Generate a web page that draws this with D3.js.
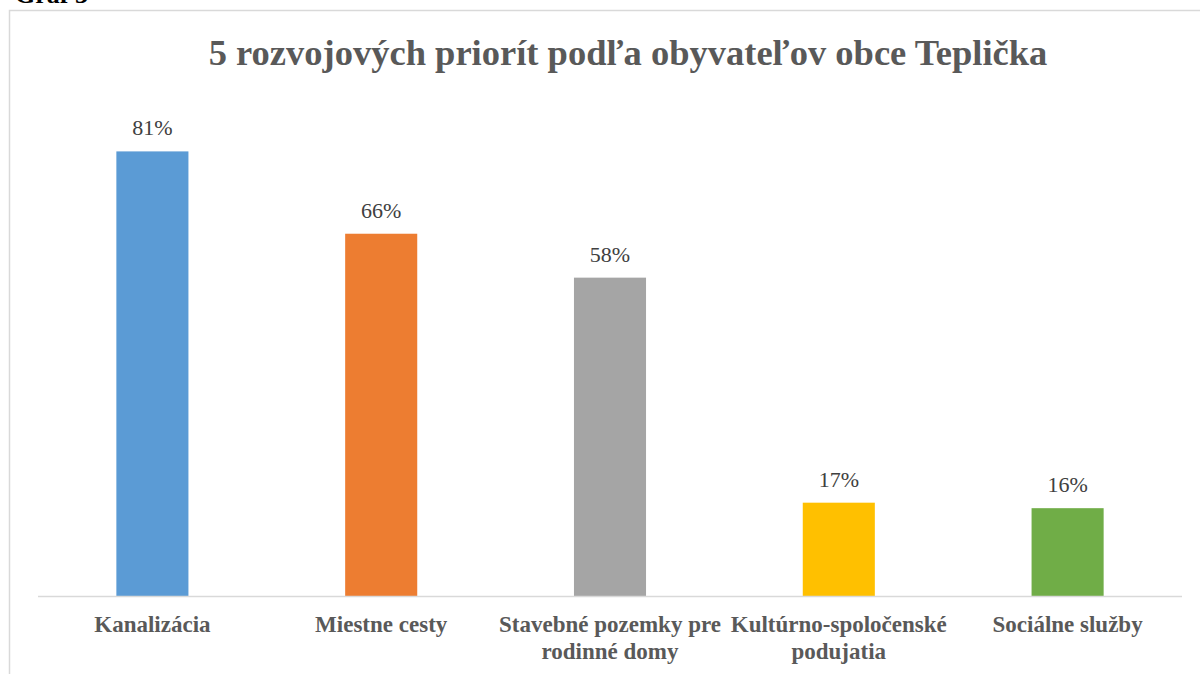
<!DOCTYPE html>
<html>
	<head>
		<script src="https://cdnjs.cloudflare.com/ajax/libs/d3/7.8.5/d3.min.js"></script>
		<title>5 rozvojových priorít</title>
	</head>

	<style>
		body {
			margin: 0;
			background-color: #fff;
		}
		svg text {
			font-family: 'Liberation Serif', 'DejaVu Serif', serif;
		}
	</style>

	<body>
		<svg></svg>
	</body>

	<script type="text/javascript">
		var categories = [
			[ 'Kanalizácia' ],
			[ 'Miestne cesty' ],
			[ 'Stavebné pozemky pre', 'rodinné domy' ],
			[ 'Kultúrno-spoločenské', 'podujatia' ],
			[ 'Sociálne služby' ]
		];
		var values = [ 0.81, 0.66, 0.58, 0.17, 0.16 ];
		var colors = [ '#5B9BD5', '#ED7D31', '#A5A5A5', '#FFC000', '#70AD47' ];
		var title = '5 rozvojových priorít podľa obyvateľov obce Teplička';

		var width = 1200;
		var height = 674;

		var svg = d3.select( 'svg' )
			.attr( 'width', width )
			.attr( 'height', height );

		// caption above the frame, mostly cut off
		svg.append( 'text' )
			.attr( 'x', 15 )
			.attr( 'y', 3 )
			.style( 'font-size', '26px' )
			.style( 'font-weight', 'bold' )
			.attr( 'fill', '#000' )
			.text( 'Graf 3' );

		// chart frame
		svg.append( 'rect' )
			.attr( 'x', 9.5 )
			.attr( 'y', 10.5 )
			.attr( 'width', 1300 )
			.attr( 'height', 800 )
			.attr( 'fill', 'none' )
			.attr( 'stroke', '#d9d9d9' )
			.attr( 'stroke-width', 1.5 );

		svg.append( 'text' )
			.attr( 'x', 628 )
			.attr( 'y', 65 )
			.attr( 'text-anchor', 'middle' )
			.style( 'font-size', '36.5px' )
			.style( 'font-weight', 'bold' )
			.attr( 'fill', '#595959' )
			.text( title );

		var x = d3.scaleBand()
			.domain( d3.range( values.length ) )
			.range( [ 38, 1182 ] )
			.paddingInner( 0.685 )
			.paddingOuter( 0.3425 );

		var y = d3.scaleLinear()
			.domain( [ 0, 0.9 ] )
			.range( [ 596, 102 ] );

		svg.selectAll( '.bar' )
			.data( values )
			.enter().append( 'rect' )
				.attr( 'class', 'bar' )
				.attr( 'x', function( d, i ) { return x( i ); } )
				.attr( 'y', function( d ) { return y( d ); } )
				.attr( 'width', x.bandwidth() )
				.attr( 'height', function( d ) { return y( 0 ) - y( d ); } )
				.attr( 'fill', function( d, i ) { return colors[i]; } );

		svg.selectAll( '.value' )
			.data( values )
			.enter().append( 'text' )
				.attr( 'class', 'value' )
				.attr( 'x', function( d, i ) { return x( i ) + x.bandwidth() / 2; } )
				.attr( 'y', function( d ) { return y( d ) - 16; } )
				.attr( 'text-anchor', 'middle' )
				.style( 'font-size', '22px' )
				.attr( 'fill', '#404040' )
				.text( function( d ) { return Math.round( d * 100 ) + '%'; } );

		// baseline
		svg.append( 'line' )
			.attr( 'x1', 38 )
			.attr( 'x2', 1182 )
			.attr( 'y1', y( 0 ) + 0.5 )
			.attr( 'y2', y( 0 ) + 0.5 )
			.attr( 'stroke', '#d9d9d9' )
			.attr( 'stroke-width', 1.5 );

		var labels = svg.selectAll( '.cat' )
			.data( categories )
			.enter().append( 'text' )
				.attr( 'class', 'cat' )
				.attr( 'text-anchor', 'middle' )
				.style( 'font-size', '23px' )
				.style( 'font-weight', 'bold' )
				.attr( 'fill', '#595959' );

		labels.selectAll( 'tspan' )
			.data( function( d, i ) { return d.map( function( s ) { return { s: s, i: i }; } ); } )
			.enter().append( 'tspan' )
				.attr( 'x', function( d ) { return x( d.i ) + x.bandwidth() / 2; } )
				.attr( 'y', function( d, j ) { return 632 + j * 27; } )
				.text( function( d ) { return d.s; } );
	</script>
</html>
